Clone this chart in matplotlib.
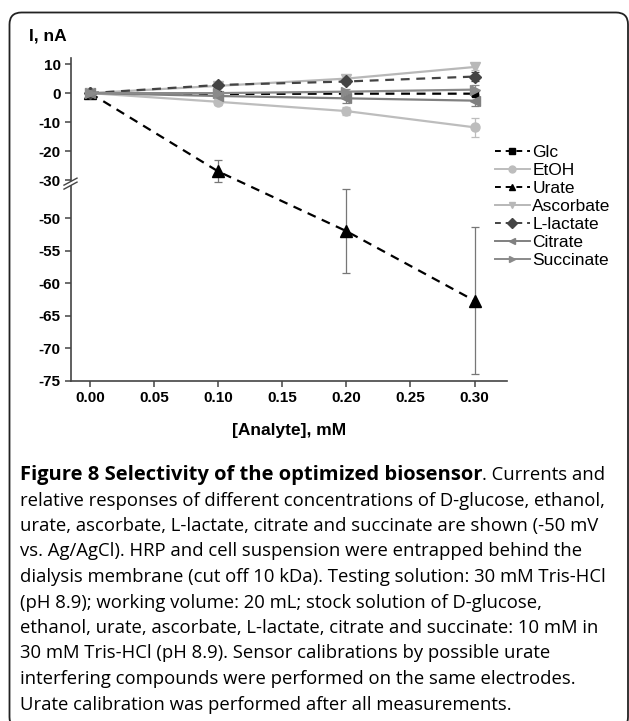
import matplotlib
matplotlib.use("Agg")
import matplotlib.pyplot as plt
import numpy as np
from matplotlib.patches import FancyBboxPatch, Polygon
from matplotlib.lines import Line2D
from matplotlib.transforms import IdentityTransform

# data
conc = [0.0, 0.1, 0.2, 0.3]
labels = ["Glc", "EtOH", "Urate", "Ascorbate", "L-lactate", "Citrate", "Succinate"]
glc = [0, -0.3, -0.2, -0.2]
glc_err = [0, 0.5, 0.5, 0.8]
etoh = [0, -3.0, -6.2, -11.8]
etoh_err = [0, 1.0, 1.5, 3.3]
urate = [0, -27.0, -52.0, -62.7]
urate_err = [0, 3.8, 6.5, 11.3]
ascorbate = [0, 2.5, 5.0, 9.0]
ascorbate_err = [0, 0.8, 1.0, 1.2]
lactate = [0, 2.8, 4.0, 5.7]
lactate_err = [0, 0.6, 1.0, 1.5]
citrate = [0, -1.0, -1.8, -2.6]
citrate_err = [0, 0.8, 1.5, 2.0]
succinate = [0, 0.0, 0.5, 1.2]
succinate_err = [0, 0.7, 1.0, 1.5]

x_ticks = [0.00, 0.05, 0.10, 0.15, 0.20, 0.25, 0.30]
y_ticks = [10, 0, -10, -20, -30, -50, -55, -60, -65, -70, -75]

caption_head = "Figure 8 Selectivity of the optimized biosensor"
caption_lines = [
    ". Currents and",
    "relative responses of different concentrations of D-glucose, ethanol,",
    "urate, ascorbate, L-lactate, citrate and succinate are shown (-50 mV",
    "vs. Ag/AgCl). HRP and cell suspension were entrapped behind the",
    "dialysis membrane (cut off 10 kDa). Testing solution: 30 mM Tris-HCl",
    "(pH 8.9); working volume: 20 mL; stock solution of D-glucose,",
    "ethanol, urate, ascorbate, L-lactate, citrate and succinate: 10 mM in",
    "30 mM Tris-HCl (pH 8.9). Sensor calibrations by possible urate",
    "interfering compounds were performed on the same electrodes.",
    "Urate calibration was performed after all measurements.",
]


# broken y axis: -31..-45 squeezed to almost nothing
def fwd(y):
    y = np.asarray(y, dtype=float)
    return np.where(y >= -31, 2.9 * y,
                    np.where(y >= -45, -89.9 + (y + 31) * (2.6 / 14),
                             -92.5 + (y + 45) * 6.5))


def inv(f):
    f = np.asarray(f, dtype=float)
    return np.where(f >= -89.9, f / 2.9,
                    np.where(f >= -92.5, -31 + (f + 89.9) * 14 / 2.6,
                             -45 + (f + 92.5) / 6.5))


W, H = 629, 721
fig = plt.figure(figsize=(W / 100, H / 100), dpi=100)
plt.rcParams['font.family'] = ['Liberation Sans', 'DejaVu Sans']

# outer rounded box
box = FancyBboxPatch((9.5, -8), 618.5, H - 12.5 + 8, boxstyle="round,pad=0,rounding_size=12",
                     transform=IdentityTransform(), fc='none', ec='#222222', lw=1.3)
fig.add_artist(box)

ax = fig.add_axes([71 / W, 1 - 380.7 / H, 436 / W, 322.7 / H])
ax.set_yscale('function', functions=(fwd, inv))

series = [
    (glc, glc_err, 'k', 's', '--', 5, 'k'),
    (etoh, etoh_err, '#bdbdbd', 'o', '-', 6.5, '#bdbdbd'),
    (urate, urate_err, 'k', '^', '--', 8.5, '#777777'),
    (ascorbate, ascorbate_err, '#b8b8b8', 'v', '-', 7.5, '#b8b8b8'),
    (lactate, lactate_err, '#444444', 'D', '--', 6.5, '#444444'),
    (citrate, citrate_err, '#808080', '<', '-', 7.5, '#808080'),
    (succinate, succinate_err, '#8a8a8a', '>', '-', 7.5, '#8a8a8a'),
]
handles = []
for (vals, err, col, mk, ls, ms, ecol), lab in zip(series, labels):
    ax.errorbar(conc, vals, yerr=err, fmt='none', ecolor=ecol, elinewidth=0.9,
                capsize=3, capthick=0.9, zorder=2)
    ax.plot(conc, vals, color=col, marker=mk, ls=ls, lw=1.6, ms=ms,
            dashes=(4, 3) if ls == '--' else (None, None), zorder=3)
    h = Line2D([], [], color=col, marker=mk, ls=ls, lw=1.4, ms=5,
               dashes=(3, 2.5) if ls == '--' else (None, None))
    handles.append(h)

ax.set_xlim(-0.01482, 0.3253)
ax.set_ylim(-75, 12.1)
ax.set_xticks(x_ticks)
ax.set_xticklabels(["%.2f" % v for v in x_ticks])
ax.set_yticks(y_ticks)
ax.set_yticklabels([str(v) for v in y_ticks])
ax.yaxis.set_minor_locator(matplotlib.ticker.NullLocator())

for s in ['top', 'right']:
    ax.spines[s].set_visible(False)
for s in ['left', 'bottom']:
    ax.spines[s].set_color('#444444')
    ax.spines[s].set_linewidth(1.2)
ax.tick_params(direction='out', length=4.5, width=1.1, color='#444444',
               labelsize=11, pad=3)
for t in ax.get_xticklabels() + ax.get_yticklabels():
    t.set_fontweight('bold')

# axis break marks at -30
y30 = ax.transData.transform((0, -30))[1]
xs = ax.transAxes.transform((0, 0))[0]
gap = Polygon([(xs - 7, y30 - 5), (xs + 6, y30 + 2), (xs + 6, y30 - 2), (xs - 7, y30 - 9)],
              closed=True, transform=IdentityTransform(), fc='white', ec='none', zorder=5)
fig.add_artist(gap)
for dy in (0, -4):
    fig.add_artist(Line2D([xs - 7, xs + 6], [y30 - 5 + dy, y30 + 2 + dy], color='#444444',
                          lw=1.0, transform=IdentityTransform(), zorder=6))

fig.text(29 / W, 1 - 36 / H, "I, nA", fontsize=12.5, fontweight='bold', va='center', ha='left')
fig.text(289 / W, 1 - 431 / H, "[Analyte], mM", fontsize=12.5, fontweight='bold',
         va='center', ha='center')

fig.legend(handles, labels, loc='upper left', bbox_to_anchor=(495 / W, 1 - 145 / H),
           frameon=False, fontsize=12.5, handlelength=2.0, handletextpad=0.15,
           labelspacing=0.16, borderaxespad=0, borderpad=0)

# caption
cap_font = ['Open Sans', 'DejaVu Sans']
y0 = 475
pitch = 25.5
t1 = fig.text(20 / W, 1 - y0 / H, caption_head, fontsize=14.5, fontweight='bold',
              family=cap_font, va='center', ha='left')
fig.canvas.draw()
bb = t1.get_window_extent()
fig.text(bb.x1 / W, 1 - y0 / H, caption_lines[0], fontsize=13.3, family=cap_font,
         va='center', ha='left')
for i, line in enumerate(caption_lines[1:], start=1):
    fig.text(20 / W, 1 - (y0 + i * pitch) / H, line, fontsize=13.3, family=cap_font,
             va='center', ha='left')

fig.savefig("out.png", dpi=100)
